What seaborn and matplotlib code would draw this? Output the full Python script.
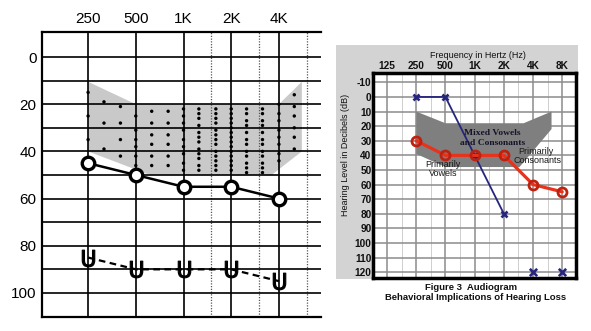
import numpy as np
import pandas as pd
import matplotlib
matplotlib.use("Agg")
import matplotlib.pyplot as plt
from matplotlib.patches import Rectangle, Polygon
import seaborn as sns

# ---------------- data: left audiogram ----------------
L_freqs = [250, 500, 1000, 2000, 4000]
L_tick_labels = ["250", "500", "1K", "2K", "4K"]
L_air_db = [45, 50, 55, 55, 60]          # O symbols
L_unmasked_db = [85, 90, 90, 90, 95]     # U symbols
L_y_ticks = [0, 20, 40, 60, 80, 100]
L_half_octaves = [1500, 3000, 6000]
# speech area outline (freq, dB)
L_area_freq = [250, 500, 4000, 5580, 5580, 3600, 615, 250]
L_area_db = [10.5, 20, 20, 10.5, 40, 50, 50, 40]
# speech-sound dots, columns at 1/3 octaves
L_dot_cols = [250, 315, 400, 500, 630, 800, 1000, 1250, 1600, 2000, 2500, 3150, 4000, 5000]
L_dot_db = [
    [15, 25, 35],
    [19, 28, 39],
    [21, 28, 35, 42],
    [25, 31, 35, 38, 42, 46],
    [23, 28, 33, 37, 42, 46],
    [23, 28, 33, 37, 42, 46],
    [22, 25, 28, 31, 35, 38, 41, 45, 48],
    [22, 24, 26, 29, 32, 34, 36, 39, 41, 43, 46, 48],
    [22, 24, 26, 28, 31, 33, 35, 37, 40, 42, 44, 46, 48],
    [22, 24, 26, 28, 30, 32, 34, 36, 38, 40, 42, 44, 46, 48],
    [22, 24, 27, 29, 32, 35, 37, 40, 42, 45, 47, 49],
    [22, 24, 27, 29, 32, 35, 37, 40, 42, 45, 47, 49],
    [20, 24, 27, 31, 34, 37, 41, 44],
    [16, 21, 25, 30, 34, 39],
]

# ---------------- data: right audiogram ----------------
R_freqs = [125, 250, 500, 1000, 2000, 4000, 8000]
R_tick_labels = ["125", "250", "500", "1K", "2K", "4K", "8K"]
R_y_ticks = list(range(-10, 121, 10))
R_right_freq = [250, 500, 1000, 2000, 4000, 8000]
R_right_db = [30, 40, 40, 40, 60, 65]       # red O
R_left_freq = [250, 500, 1000, 2000]
R_left_db = [0, 0, 40, 80]                  # blue X
R_noresp_freq = [4000, 8000]
R_noresp_db = [120, 120]
R_area_freq = [250, 500, 3200, 6200, 6200, 2900, 500, 250]
R_area_db = [10, 18, 18, 10, 22, 48, 48, 39]
R_half_octaves = [177, 354, 707, 1414, 2828, 5657]

W, H = 591, 331
sns.set_theme(style="white")
plt.rcParams["font.family"] = ["Liberation Sans", "DejaVu Sans"]
fig = plt.figure(figsize=(W / 100, H / 100), dpi=100)
fig.patch.set_facecolor("white")

def fx(px):
    return px / W

def fy(py):
    return 1 - py / H

# ================= LEFT =================
axL = fig.add_axes([fx(42), fy(317), fx(321) - fx(42), fy(32) - fy(317)])
axL.set_xscale("log", base=2)
axL.set_xlim(128, 7370)
axL.set_ylim(110.2, -10.6)
axL.set_facecolor("white")
axL.set_axisbelow(True)

axL.add_patch(Polygon(list(zip(L_area_freq, L_area_db)), closed=True,
                      facecolor="#c9c9c9", edgecolor="none", zorder=0.3))

dots = pd.DataFrame([(f, d) for f, col in zip(L_dot_cols, L_dot_db) for d in col],
                    columns=["freq", "db"])
sns.scatterplot(data=dots, x="freq", y="db", ax=axL, s=6, color="black",
                edgecolor="none", zorder=3, legend=False)

dfL = pd.DataFrame({"freq": L_freqs, "air": L_air_db, "unm": L_unmasked_db})
sns.lineplot(data=dfL, x="freq", y="air", ax=axL, color="black", lw=1.8,
             marker="o", markersize=9, markerfacecolor="white",
             markeredgecolor="black", markeredgewidth=2.4, zorder=4)
sns.lineplot(data=dfL, x="freq", y="unm", ax=axL, color="black", lw=1.6,
             linestyle=(0, (3, 2)), marker=r"$\mathsf{U}$", markersize=12,
             markerfacecolor="black", markeredgecolor="black", markeredgewidth=0.8,
             zorder=4)

axL.set_xticks(L_freqs)
axL.set_xticklabels(L_tick_labels)
axL.set_xticks(L_half_octaves, minor=True)
axL.xaxis.set_minor_formatter(matplotlib.ticker.NullFormatter())
axL.set_yticks(L_y_ticks)
axL.set_yticklabels([str(v) for v in L_y_ticks])
axL.set_yticks([10, 30, 50, 70, 90], minor=True)
axL.yaxis.set_minor_formatter(matplotlib.ticker.NullFormatter())
axL.xaxis.tick_top()
axL.tick_params(axis="both", which="both", length=0)
axL.tick_params(axis="x", which="major", pad=4, labelsize=11, colors="black")
axL.tick_params(axis="y", which="major", pad=4, labelsize=11, colors="black")
axL.grid(True, which="major", axis="both", color="black", lw=1.2)
axL.grid(True, which="minor", axis="y", color="black", lw=1.2)
axL.grid(True, which="minor", axis="x", color="#555555", lw=0.9, linestyle=(0, (1, 1.2)))
axL.set_xlabel("")
axL.set_ylabel("")
axL.spines["right"].set_visible(False)
for s in ["left", "top", "bottom"]:
    axL.spines[s].set_color("black")
    axL.spines[s].set_linewidth(1.6)

# ================= RIGHT =================
fig.patches.append(Rectangle((fx(336), fy(279)), fx(578) - fx(336), fy(45) - fy(279),
                             transform=fig.transFigure, facecolor="#d3d3d3",
                             edgecolor="none", zorder=-5))

axR = fig.add_axes([fx(373), fy(278.3), fx(576) - fx(373), fy(73.3) - fy(278.3)])
axR.set_zorder(3)
axR.set_xscale("log", base=2)
axR.set_xlim(89.6, 11080)
axR.set_ylim(124.2, -16.2)
axR.set_facecolor("white")
axR.set_axisbelow(True)

axR.add_patch(Polygon(list(zip(R_area_freq, R_area_db)), closed=True,
                      facecolor="#7f7f7f", edgecolor="none", zorder=1))

dfRr = pd.DataFrame({"freq": R_right_freq, "db": R_right_db})
dfRl = pd.DataFrame({"freq": R_left_freq, "db": R_left_db})
dfRn = pd.DataFrame({"freq": R_noresp_freq, "db": R_noresp_db})
sns.lineplot(data=dfRl, x="freq", y="db", ax=axR, color="#25257e", lw=1.3,
             marker="x", markersize=5, markeredgewidth=1.9,
             markeredgecolor="#25257e", zorder=4)
sns.lineplot(data=dfRr, x="freq", y="db", ax=axR, color="#e8321c", lw=2.3,
             marker="o", markersize=6.5, markerfacecolor="none",
             markeredgecolor="#c0200e", markeredgewidth=2.0, zorder=5)
sns.scatterplot(data=dfRn, x="freq", y="db", ax=axR, marker="x", s=28,
                color="#25257e", linewidth=1.9, zorder=4, legend=False)

axR.set_xticks(R_freqs)
axR.set_xticklabels(R_tick_labels)
axR.set_xticks(R_half_octaves, minor=True)
axR.xaxis.set_minor_formatter(matplotlib.ticker.NullFormatter())
axR.set_yticks(R_y_ticks)
axR.set_yticklabels([str(v) for v in R_y_ticks])
axR.xaxis.tick_top()
axR.tick_params(axis="both", which="both", length=0)
axR.tick_params(axis="x", which="major", pad=1.5, labelsize=7.3, colors="#111111")
axR.tick_params(axis="y", which="major", pad=1.0, labelsize=7.3, colors="#111111")
for lab in axR.get_xticklabels() + axR.get_yticklabels():
    lab.set_fontweight("bold")
axR.grid(True, which="major", axis="both", color="#8c8c8c", lw=1.1)
axR.grid(True, which="minor", axis="x", color="#cfcfcf", lw=0.7)
axR.set_xlabel("")
axR.set_ylabel("")
for s in axR.spines.values():
    s.set_color("black")
    s.set_linewidth(2.5)

# annotations
axR.text(1520, 24.5, "Mixed Vowels", family=["Liberation Serif", "DejaVu Serif"],
         fontweight="bold", fontsize=6.8, color="#14142a", ha="center", va="center", zorder=6)
axR.text(1520, 31.5, "and Consonants", family=["Liberation Serif", "DejaVu Serif"],
         fontweight="bold", fontsize=6.8, color="#14142a", ha="center", va="center", zorder=6)
axR.text(470, 46, "Primarily", fontsize=6.5, color="#1a1a1a", ha="center", va="center", zorder=6)
axR.text(470, 52.5, "Vowels", fontsize=6.5, color="#1a1a1a", ha="center", va="center", zorder=6)
axR.text(4290, 37.5, "Primarily", fontsize=6.5, color="#1a1a1a", ha="center", va="center", zorder=6)
axR.text(4400, 43.8, "Consonants", fontsize=6.5, color="#1a1a1a", ha="center", va="center", zorder=6)

fig.text(fx(478), fy(55), "Frequency in Hertz (Hz)", fontsize=6.5, color="#111111",
         ha="center", va="center")
fig.text(fx(345), fy(155), "Hearing Level in Decibels (dB)", fontsize=6.5,
         color="#111111", ha="center", va="center", rotation=90)
fig.text(fx(471), fy(287), "Figure 3  Audiogram", fontsize=6.8, fontweight="bold",
         color="#111111", ha="center", va="center")
fig.text(fx(476), fy(298), "Behavioral Implications of Hearing Loss", fontsize=6.8,
         fontweight="bold", color="#111111", ha="center", va="center")

fig.savefig("out.png", dpi=100)
